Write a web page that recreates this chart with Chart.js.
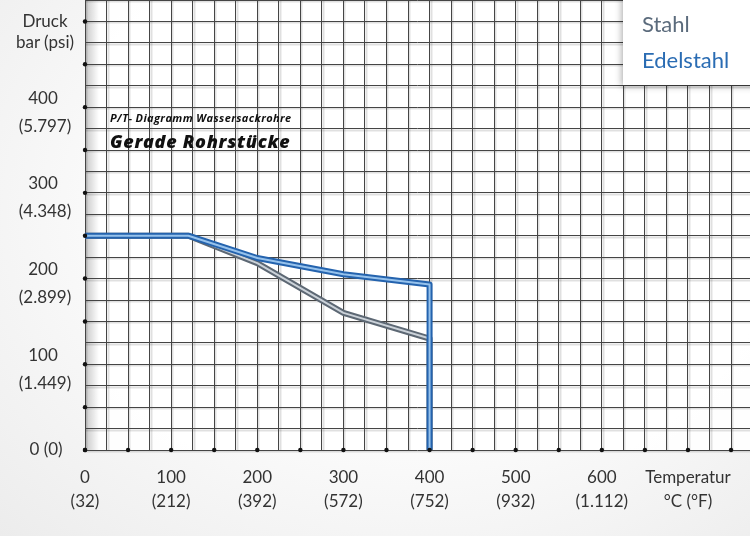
<!DOCTYPE html>
<html>
<head>
<meta charset="utf-8">
<script src="https://cdn.jsdelivr.net/npm/chart.js@4.4.0/dist/chart.umd.min.js"></script>
<style>
  html, body { margin: 0; padding: 0; }
  body {
    width: 750px; height: 536px; overflow: hidden; position: relative;
    background: radial-gradient(ellipse at 55% 40%, #ffffff 0%, #fbfbfb 50%, #ececec 100%);
    font-family: Lato, sans-serif;
  }
  #wrap { position: absolute; left: 0; top: 0; width: 750px; height: 536px; }
  .ytitle { position: absolute; left: 0; width: 90px; text-align: center; color: #333; font-size: 17px; line-height: 21px; top: 10px; }
  .t1 { position: absolute; left: 110px; top: 110px; font: italic bold 11px "Open Sans", sans-serif; color: #111; letter-spacing: 0.4px; }
  .t2 { position: absolute; left: 110px; top: 129px; font: italic 800 18px "Open Sans", sans-serif; color: #111; letter-spacing: 0.7px; }
  .legend {
    position: absolute; left: 623px; top: -4px; width: 140px; height: 89px;
    background: #fff; box-shadow: -1px 1px 7px rgba(0,0,0,0.35);
  }
  .legend div { position: absolute; left: 19px; font-size: 22px; }
  .stahl { top: 14px; color: #5b6b7c; }
  .edel { top: 50px; color: #2a6cb3; }
</style>
</head>
<body>
<div id="wrap"><canvas id="ptChart" width="750" height="536"></canvas></div>
<div class="ytitle">Druck<br>bar (psi)</div>
<div class="t1">P/T- Diagramm Wassersackrohre</div>
<div class="t2">Gerade Rohrstücke</div>
<div class="legend">
  <div class="stahl">Stahl</div>
  <div class="edel">Edelstahl</div>
</div>
<script>
// Temperatur °C / Druck bar
const stahlTemp = [0, 120, 200, 300, 400, 400];
const stahlDruck = [250, 250, 218, 160, 130, 0];
const edelTemp = [0, 120, 200, 300, 400, 400];
const edelDruck = [250, 250, 224, 205, 193, 0];

// tick labels
const tempTicks = [0, 100, 200, 300, 400, 500, 600];
const fahrenheit = ['(32)', '(212)', '(392)', '(572)', '(752)', '(932)', '(1.112)'];
const druckTicks = [100, 200, 300, 400];
const psi = ['(1.449)', '(2.899)', '(4.348)', '(5.797)'];

const toPoints = (xs, ys) => xs.map((x, i) => ({ x: x, y: ys[i] }));

function gridTicks(max) {
  const t = [];
  for (let v = 0; v <= max; v += 25) t.push({ value: v });
  return t;
}

// shading, dots on the axes, y labels
const decor = {
  id: 'decor',
  beforeDraw(chart) {
    const { ctx, chartArea: a } = chart;
    ctx.save();
    ctx.fillStyle = 'rgba(255,255,255,0.9)';
    ctx.fillRect(a.left, a.top, a.right - a.left, a.bottom - a.top);
    let g = ctx.createLinearGradient(a.left, 0, a.left + 14, 0);
    g.addColorStop(0, 'rgba(0,0,0,0.22)');
    g.addColorStop(1, 'rgba(0,0,0,0)');
    ctx.fillStyle = g;
    ctx.fillRect(a.left, a.top, 14, a.bottom - a.top);
    // light shadow next to the grid lines
    ctx.strokeStyle = 'rgba(0,0,0,0.12)';
    ctx.lineWidth = 2;
    const xs = chart.scales.x, ys = chart.scales.y;
    xs.ticks.forEach(t => {
      const px = Math.round(xs.getPixelForValue(t.value)) + 1.5;
      ctx.beginPath(); ctx.moveTo(px, a.top); ctx.lineTo(px, a.bottom); ctx.stroke();
    });
    ys.ticks.forEach(t => {
      const py = Math.round(ys.getPixelForValue(t.value)) + 1.5;
      ctx.beginPath(); ctx.moveTo(a.left, py); ctx.lineTo(a.right, py); ctx.stroke();
    });
    ctx.restore();
  },
  afterDraw(chart) {
    const { ctx, chartArea: a } = chart;
    const xs = chart.scales.x, ys = chart.scales.y;
    ctx.save();
    ctx.fillStyle = '#111';
    xs.ticks.filter(t => t.value % 50 === 0).forEach(t => {
      ctx.beginPath(); ctx.arc(xs.getPixelForValue(t.value), a.bottom, 2.2, 0, Math.PI * 2); ctx.fill();
    });
    ys.ticks.filter(t => t.value % 50 === 0).forEach(t => {
      ctx.beginPath(); ctx.arc(a.left, ys.getPixelForValue(t.value), 2.2, 0, Math.PI * 2); ctx.fill();
    });
    // y labels: value above, psi below the tick
    ctx.fillStyle = '#333';
    ctx.font = '17px Lato';
    ctx.textAlign = 'center';
    ctx.textBaseline = 'middle';
    ctx.fillText('0 (0)', 46, ys.getPixelForValue(0));
    druckTicks.forEach((v, i) => {
      const py = ys.getPixelForValue(v);
      ctx.fillText(String(v), 43, py - 9);
      ctx.fillText(psi[i], 45, py + 19);
    });
    ctx.restore();
  }
};

// datasets are drawn from last to first, so the light core comes first
function tube(data, outer, inner) {
  return [
    { data: data, borderColor: inner, borderWidth: 2, showLine: true, pointRadius: 0, fill: false, borderJoinStyle: 'round' },
    { data: data, borderColor: outer, borderWidth: 6, showLine: true, pointRadius: 0, fill: false, borderJoinStyle: 'round' }
  ];
}

new Chart(document.getElementById('ptChart'), {
  type: 'scatter',
  data: {
    datasets: [
      ...tube(toPoints(edelTemp, edelDruck), '#2463ae', '#96c2ec'),
      ...tube(toPoints(stahlTemp, stahlDruck), '#5d6874', '#cbd2d9')
    ]
  },
  options: {
    responsive: false,
    animation: false,
    layout: { padding: 0 },
    plugins: { legend: { display: false }, tooltip: { enabled: false } },
    scales: {
      x: {
        type: 'linear', min: 0, max: 772,
        afterBuildTicks: s => { s.ticks = gridTicks(750); },
        afterFit: s => { s.height = 86; s.paddingLeft = 0; s.paddingRight = 0; },
        grid: { color: '#454545', lineWidth: 1, drawTicks: false },
        border: { display: false },
        ticks: {
          autoSkip: false, maxRotation: 0, padding: 16, color: '#333',
          font: { family: 'Lato', size: 17, lineHeight: 1.4 },
          callback: v => {
            const i = tempTicks.indexOf(v);
            if (i >= 0) return [String(v), fahrenheit[i]];
            if (v === 700) return ['Temperatur', '°C (°F)'];
            return '';
          }
        }
      },
      y: {
        type: 'linear', min: 0, max: 525,
        afterBuildTicks: s => { s.ticks = gridTicks(525); },
        afterFit: s => { s.width = 85; s.paddingTop = 0; s.paddingBottom = 0; },
        grid: { color: '#454545', lineWidth: 1, drawTicks: false },
        border: { display: false },
        ticks: { display: false }
      }
    }
  },
  plugins: [decor]
});
</script>
</body>
</html>
